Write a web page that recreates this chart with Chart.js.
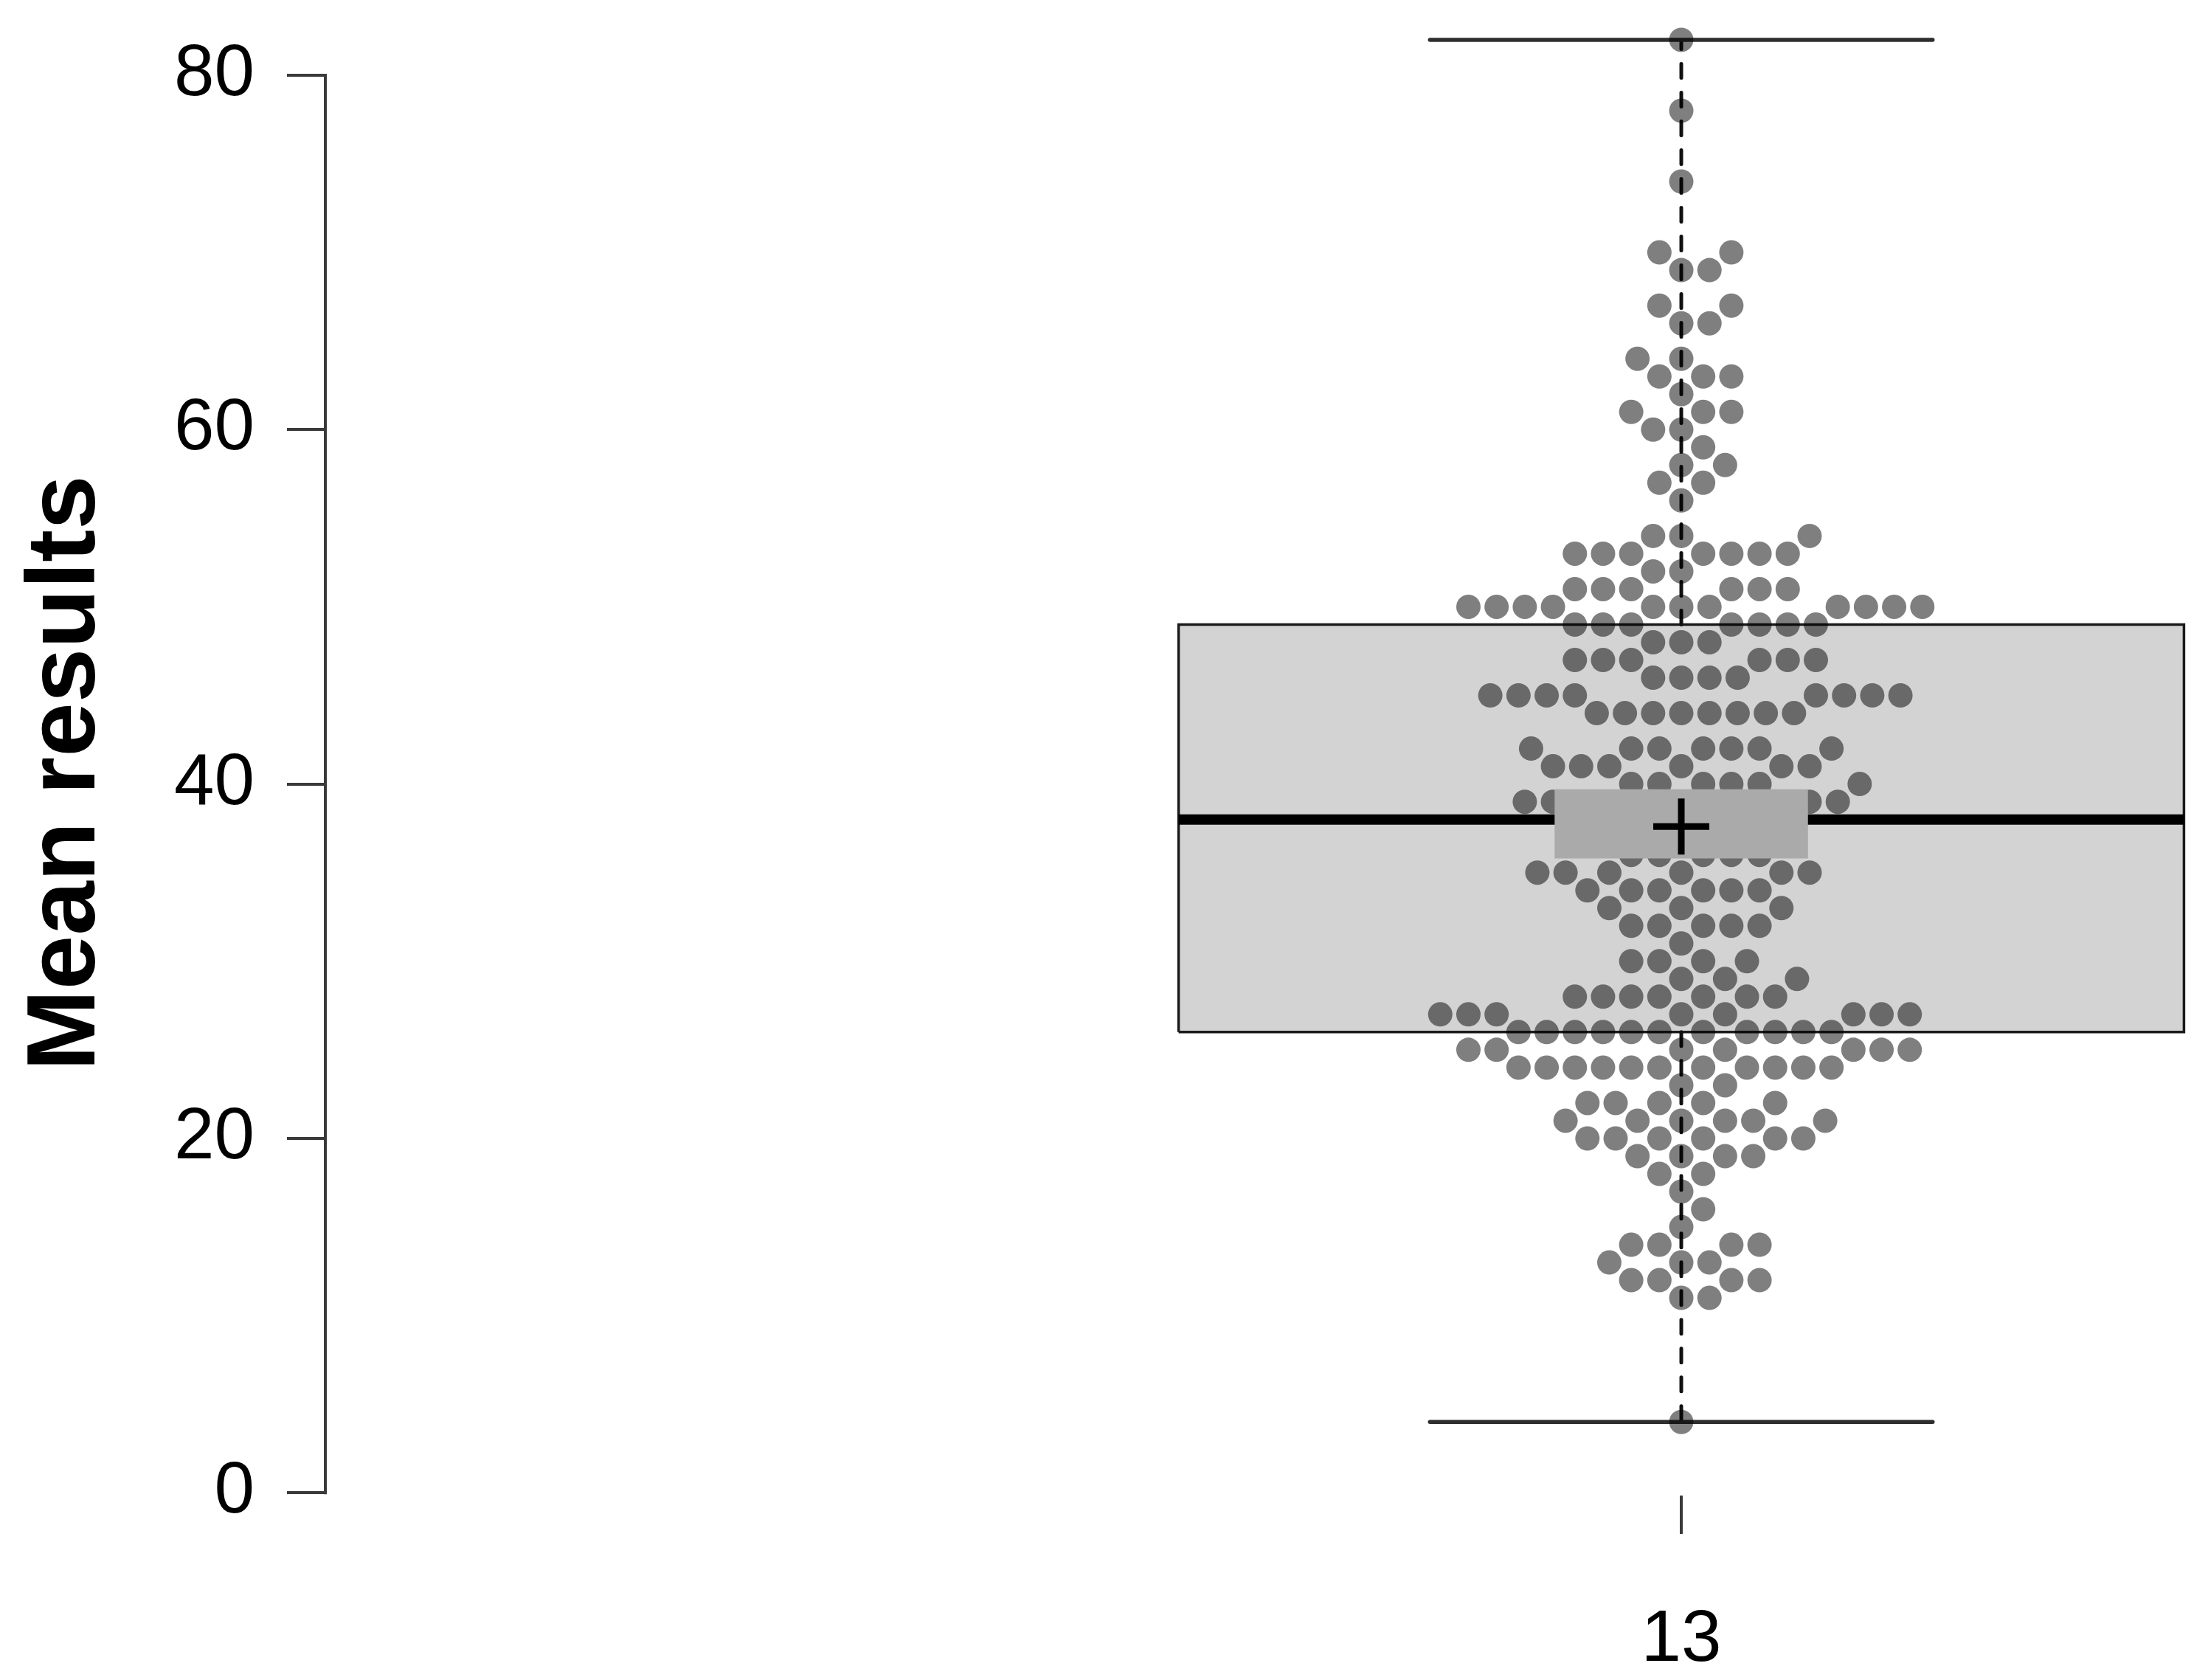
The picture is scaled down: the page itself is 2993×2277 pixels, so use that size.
<!DOCTYPE html>
<html>
<head>
<meta charset="utf-8">
<script src="https://cdn.jsdelivr.net/npm/chart.js@4/dist/chart.umd.min.js"></script>
<style>
html, body { margin: 0; padding: 0; background: #ffffff; }
#c { display: block; }
</style>
</head>
<body>
<canvas id="c" width="2993" height="2277" style="width:2993px;height:2277px"></canvas>
<script>
// ---------------- data ----------------
const categories = ['13'];
const yTickValues = [0, 20, 40, 60, 80];
const yAxisTitle = 'Mean results';

// individual results (one dot each)
const resultValues = [
  82, 78, 74,
  70, 70, 69, 69, 67, 67, 66, 66,
  64, 64, 63, 63, 63, 62, 61, 61, 61, 60, 60, 59, 58, 58, 57, 57, 56,
  54, 54, 54,
  53, 53, 53, 53, 53, 53, 53,
  52, 52,
  51, 51, 51, 51, 51, 51,
  50, 50, 50, 50, 50, 50, 50, 50, 50, 50, 50,
  49, 49, 49, 49, 49, 49, 49,
  48, 48, 48,
  47, 47, 47, 47, 47, 47,
  46, 46, 46, 46,
  45, 45, 45, 45, 45, 45, 45, 45,
  44, 44, 44, 44, 44, 44, 44, 44,
  42, 42, 42, 42, 42, 42, 42,
  41, 41, 41, 41, 41, 41,
  40, 40, 40, 40, 40, 40,
  39, 39, 39, 39, 39, 39, 39, 39,
  38, 38, 38, 38, 38,
  37, 37, 37,
  36, 36, 36, 36, 36,
  35, 35, 35, 35, 35, 35,
  34, 34, 34, 34, 34, 34,
  33, 33, 33,
  32, 32, 32, 32, 32,
  31,
  30, 30, 30, 30,
  29, 29, 29,
  28, 28, 28, 28, 28, 28, 28,
  27, 27, 27, 27, 27, 27, 27, 27,
  26, 26, 26, 26, 26, 26, 26, 26, 26, 26, 26,
  25, 25, 25, 25, 25, 25, 25,
  24, 24, 24, 24, 24, 24, 24, 24, 24, 24, 24,
  23, 23,
  22, 22, 22, 22, 22,
  21, 21, 21, 21, 21, 21,
  20, 20, 20, 20, 20, 20,
  19, 19, 19, 19,
  18, 18,
  17, 16, 15,
  14, 14, 14, 14,
  13, 13, 13,
  12, 12, 12, 12,
  11, 11,
  4
];

// box-plot summary: [min, lower hinge, median, upper hinge, max]
const boxStats = [4, 26, 38, 49, 82];
const meanValue = 37.6;
const meanInterval = [35.8, 39.7];

// ---------------- layout / style constants ----------------
const FONT = '"Liberation Sans", Arial, Helvetica, sans-serif';
const BOX_HALF = 0.5;          // box half width (x units)
const CAP_HALF = 0.25;         // whisker cap half width
const CI_HALF = 0.126;         // mean-interval rectangle half width
const DOT_X = 0.02803;         // dot spacing on x (x units)
const DOT_Y = 1.5877;          // dot spacing on y (value units)

// beeswarm "swarm" placement (ascending priority)
function swarmOffsets(values) {
  const order = values.map((v, i) => i).sort((a, b) => values[a] - values[b] || a - b);
  const placed = [];
  const out = new Array(values.length).fill(0);
  for (const i of order) {
    const yi = values[i] / DOT_Y;
    const close = placed.filter(p => Math.abs(yi - p.y) < 1);
    let best = 0;
    if (close.length) {
      const cands = [0];
      const offs = close.map(p => Math.sqrt(1 - (yi - p.y) * (yi - p.y)));
      close.forEach((p, k) => cands.push(p.x + offs[k]));
      close.forEach((p, k) => cands.push(p.x - offs[k]));
      let bestAbs = Infinity;
      for (const c of cands) {
        const bad = close.some(p => (c - p.x) * (c - p.x) + (yi - p.y) * (yi - p.y) < 0.999);
        if (bad) continue;
        const a = Math.round(Math.abs(c) * 1e6) / 1e6;
        if (a < bestAbs) { bestAbs = a; best = c; }
      }
    }
    placed.push({ y: yi, x: best });
    out[i] = best;
  }
  return out;
}

const offsets = swarmOffsets(resultValues);
const dotPoints = resultValues.map((v, i) => ({ x: offsets[i] * DOT_X, y: v }));

const [bMin, bQ1, bMed, bQ3, bMax] = boxStats;

const boxPolygon = [
  { x: -BOX_HALF, y: bQ1 }, { x: BOX_HALF, y: bQ1 },
  { x: BOX_HALF, y: bQ3 }, { x: -BOX_HALF, y: bQ3 }, { x: -BOX_HALF, y: bQ1 }
];
const ciPolygon = [
  { x: -CI_HALF, y: meanInterval[0] }, { x: CI_HALF, y: meanInterval[0] },
  { x: CI_HALF, y: meanInterval[1] }, { x: -CI_HALF, y: meanInterval[1] }, { x: -CI_HALF, y: meanInterval[0] }
];

const lineBase = { type: 'line', pointRadius: 0, tension: 0, clip: false, fill: false };

const datasets = [
  Object.assign({}, lineBase, {
    label: 'box', data: boxPolygon, order: 70,
    borderColor: '#1a1a1a', borderWidth: 3.5, backgroundColor: '#d3d3d3',
    fill: 'shape', borderJoinStyle: 'miter'
  }),
  Object.assign({}, lineBase, {
    label: 'median', data: [{ x: -BOX_HALF, y: bMed }, { x: BOX_HALF, y: bMed }], order: 60,
    borderColor: '#000000', borderWidth: 14, borderCapStyle: 'butt'
  }),
  Object.assign({}, lineBase, {
    label: 'upper whisker', data: [{ x: 0, y: bQ3 }, { x: 0, y: bMax }], order: 50,
    borderColor: '#111111', borderWidth: 5, borderDash: [19, 20], borderCapStyle: 'round'
  }),
  Object.assign({}, lineBase, {
    label: 'lower whisker', data: [{ x: 0, y: bQ1 }, { x: 0, y: bMin }], order: 50,
    borderColor: '#111111', borderWidth: 5, borderDash: [19, 20], borderCapStyle: 'round'
  }),
  Object.assign({}, lineBase, {
    label: 'upper cap', data: [{ x: -CAP_HALF, y: bMax }, { x: CAP_HALF, y: bMax }], order: 45,
    borderColor: '#2e2e2e', borderWidth: 5.5, borderCapStyle: 'round'
  }),
  Object.assign({}, lineBase, {
    label: 'lower cap', data: [{ x: -CAP_HALF, y: bMin }, { x: CAP_HALF, y: bMin }], order: 45,
    borderColor: '#2e2e2e', borderWidth: 5.5, borderCapStyle: 'round'
  }),
  {
    type: 'scatter', label: 'results', data: dotPoints, order: 30, clip: false,
    pointRadius: 16.5, pointHoverRadius: 16.5, pointBorderWidth: 0,
    pointBackgroundColor: 'rgba(0,0,0,0.5)', backgroundColor: 'rgba(0,0,0,0.5)', borderWidth: 0
  },
  Object.assign({}, lineBase, {
    label: 'mean interval', data: ciPolygon, order: 20,
    borderWidth: 0, borderColor: 'rgba(0,0,0,0)', backgroundColor: '#aaaaaa', fill: 'shape'
  }),
  {
    type: 'scatter', label: 'mean', data: [{ x: 0, y: meanValue }], order: 10, clip: false,
    pointStyle: 'cross', pointRadius: 38, pointHoverRadius: 38,
    pointBorderColor: '#000000', borderColor: '#000000', pointBorderWidth: 9, borderWidth: 9
  }
];

const axisLinePlugin = {
  id: 'axisLine',
  afterDatasetsDraw(chart) {
    const ys = chart.scales.y;
    const ctx = chart.ctx;
    const x0 = chart.chartArea.left;
    ctx.save();
    ctx.strokeStyle = '#3a3a3a';
    ctx.lineWidth = 4;
    ctx.lineCap = 'square';
    ctx.beginPath();
    ctx.moveTo(x0, ys.getPixelForValue(yTickValues[0]));
    ctx.lineTo(x0, ys.getPixelForValue(yTickValues[yTickValues.length - 1]));
    ctx.stroke();
    ctx.restore();
  }
};

new Chart(document.getElementById('c'), {
  type: 'scatter',
  data: { datasets },
  options: {
    responsive: false,
    maintainAspectRatio: false,
    devicePixelRatio: 1,
    animation: false,
    events: [],
    layout: { autoPadding: false, padding: { left: 0, right: 0, top: 65, bottom: 0 } },
    plugins: { legend: { display: false }, tooltip: { enabled: false } },
    scales: {
      x: {
        type: 'linear', position: 'bottom',
        min: -1.3487, max: 0.5239,
        afterBuildTicks: s => { s.ticks = [{ value: 0 }]; },
        afterFit: s => { s.height = 250; },
        border: { display: false },
        grid: { drawOnChartArea: false, drawTicks: true, tickLength: 52, color: '#3a3a3a', lineWidth: 4 },
        ticks: {
          padding: 86, color: '#000000', maxRotation: 0, autoSkip: false,
          font: { family: FONT, size: 98 },
          callback: () => categories[0]
        }
      },
      y: {
        type: 'linear', position: 'left',
        min: -0.154, max: 81.392,
        afterBuildTicks: s => { s.ticks = yTickValues.map(v => ({ value: v })); },
        afterFit: s => { s.width = 441; },
        border: { display: false },
        grid: { drawOnChartArea: false, drawTicks: true, tickLength: 52, color: '#3a3a3a', lineWidth: 4 },
        ticks: {
          padding: 44, color: '#000000', autoSkip: false,
          font: { family: FONT, size: 98, lineHeight: 0.5 },
          callback: v => String(v)
        },
        title: {
          display: true, text: yAxisTitle, color: '#000000',
          font: { family: FONT, size: 132, weight: 'bold', lineHeight: 1.2 },
          padding: { top: 12, bottom: 0 }
        }
      }
    }
  },
  plugins: [axisLinePlugin]
});
</script>
</body>
</html>
